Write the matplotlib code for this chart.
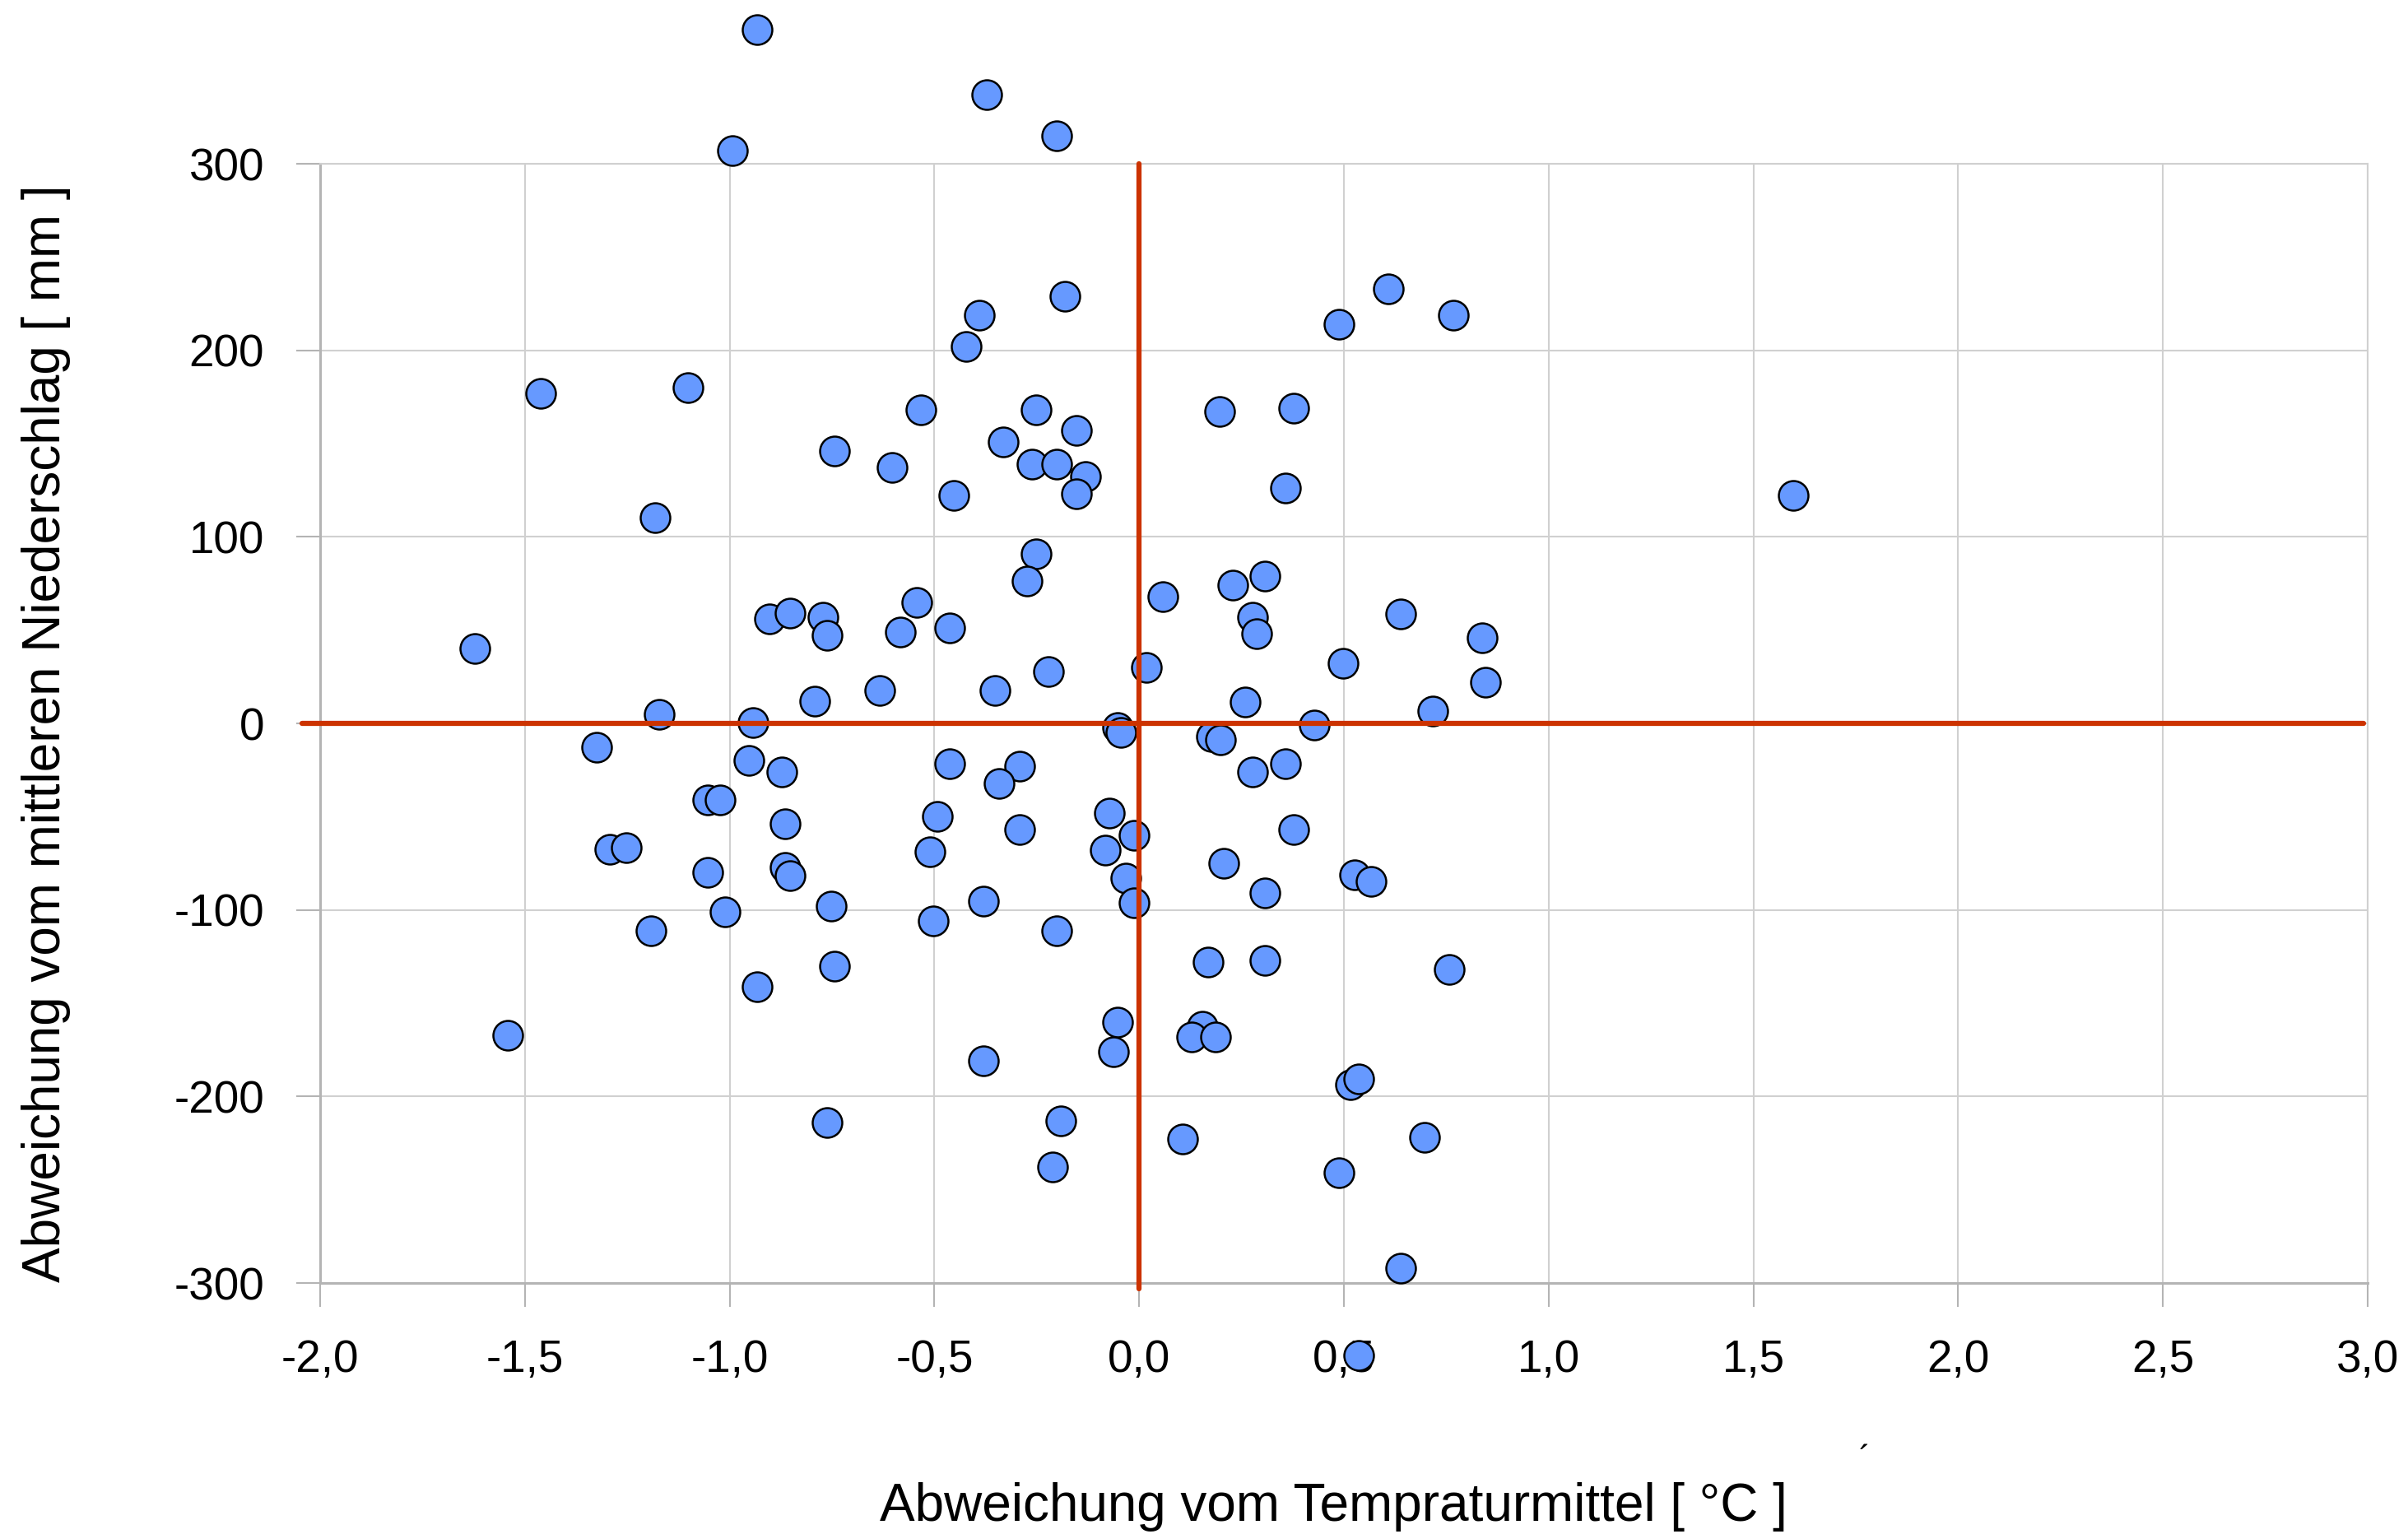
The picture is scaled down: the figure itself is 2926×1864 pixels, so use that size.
import matplotlib
matplotlib.use("Agg")
import matplotlib.pyplot as plt
from matplotlib.ticker import FixedLocator, FuncFormatter

plt.rcParams["font.family"] = ["Liberation Sans", "DejaVu Sans"]
plt.rcParams["axes.unicode_minus"] = False

# Abweichung vom Temperaturmittel [°C] / Niederschlag [mm]
temp_dev = [
    -0.932, -0.993, -0.372, -0.202, -1.462, -1.102, -0.533, -0.743, -0.603, -1.182,
    -0.544, -0.903, -0.853, -0.773, -0.763, -0.583, -1.622, -0.793, -0.633, -1.172,
    -0.943, -0.182, -0.391, -0.422, 0.608, 0.488, 0.767, -0.252, -0.153, -0.332,
    -0.262, -0.202, -0.132, -0.153, -0.452, 0.197, 0.377, 0.357, -0.252, -0.273,
    -0.462, 0.058, 0.228, 0.308, 0.277, 0.287, 0.638, 0.837, 0.846, 0.497,
    0.717, -0.222, -0.352, 0.018, 0.258, 1.597, 0.427, -0.052, -0.045, 0.177,
    0.199, -0.462, -0.292, -0.342, 0.277, 0.357, -0.492, -0.511, -0.292, -0.072,
    -0.013, -0.082, -0.032, -0.013, 0.377, 0.207, 0.308, 0.527, 0.567, -0.381,
    -0.502, -0.202, 0.168, 0.308, 0.757, -0.052, -0.063, 0.155, 0.128, 0.187,
    -0.381, 0.516, 0.537, -0.192, -0.212, 0.107, 0.697, 0.488, 0.638, 0.537,
    -1.324, -0.953, -0.873, -1.054, -1.023, -0.864, -1.292, -1.253, -1.053, -0.864,
    -0.853, -1.012, -1.192, -0.753, -0.743, -0.932, -1.542, -0.763,
]
precip_dev = [
    372, 307, 337, 315, 177, 180, 168, 146, 137, 110.5,
    65, 56, 59, 57, 47, 49, 40, 12, 17.5, 5,
    0.3, 229, 219, 202, 233, 214, 219, 168, 157, 151,
    139, 139, 132.5, 123, 122, 167, 169, 126, 91, 76.5,
    51, 68, 74, 79, 57, 48, 58.5, 46, 22, 32,
    6.6, 28, 17.5, 30, 11.6, 122, -1, -2, -5, -7,
    -9, -21.6, -23, -32, -26, -21.6, -50, -69, -57, -48,
    -60, -68, -83, -96, -57, -75, -91, -81, -84.5, -95.5,
    -106, -111, -128, -127, -132, -160, -176, -162.5, -168, -168,
    -181, -193.5, -190.7, -213, -238, -223, -222, -241, -292, -339,
    -13, -20, -26, -41, -41, -54, -67.5, -66.5, -80, -77,
    -81.5, -101, -111, -98, -130, -141, -167, -214,
]

x_ticks = [-2.0, -1.5, -1.0, -0.5, 0.0, 0.5, 1.0, 1.5, 2.0, 2.5, 3.0]
y_ticks = [-300, -200, -100, 0, 100, 200, 300]

W, H = 2926, 1864
fig = plt.figure(figsize=(W / 100, H / 100), dpi=100)
ax = fig.add_axes([389 / W, 1 - 1559 / H, (2877 - 389) / W, (1559 - 199) / H])

ax.set_xlim(-2, 3)
ax.set_ylim(-300, 300)
ax.xaxis.set_major_locator(FixedLocator(x_ticks))
ax.yaxis.set_major_locator(FixedLocator(y_ticks))
ax.xaxis.set_major_formatter(FuncFormatter(lambda v, p: f"{v:.1f}".replace(".", ",")))
ax.yaxis.set_major_formatter(FuncFormatter(lambda v, p: f"{v:.0f}"))

ax.set_axisbelow(True)
ax.grid(True, color="#d0d0d0", linewidth=1.5)
for side in ["top", "right"]:
    ax.spines[side].set_color("#d0d0d0")
    ax.spines[side].set_linewidth(1.5)
for side in ["left", "bottom"]:
    ax.spines[side].set_color("#b4b4b4")
    ax.spines[side].set_linewidth(2.2)

ax.tick_params(axis="both", direction="out", length=21, width=1.5, color="#b4b4b4",
               labelsize=39.5, labelcolor="black", pad=28)

ax.scatter(temp_dev, precip_dev, s=670, c="#6699ff", edgecolors="black",
           linewidths=1.8, zorder=3, clip_on=False)

ax.axhline(0, xmin=-0.009, xmax=0.998, color="#cc3300", linewidth=4.5,
           solid_capstyle="round", zorder=4, clip_on=False)
ax.axvline(0, ymin=-0.005, ymax=1.0, color="#cc3300", linewidth=4.5,
           solid_capstyle="round", zorder=4, clip_on=False)

fig.text(1620 / W, 1 - 1848 / H, "Abweichung vom Tempraturmittel [ °C ]",
         ha="center", va="baseline", fontsize=46)
fig.text(56 / W, 1 - 891 / H, "Abweichung vom mittleren Niederschlag [ mm ]",
         ha="center", va="center", rotation=90, fontsize=46)
fig.text(2265 / W, 1 - 1775 / H, "´", ha="center", va="center", fontsize=30)

fig.savefig("out.png", dpi=100, facecolor="white")
